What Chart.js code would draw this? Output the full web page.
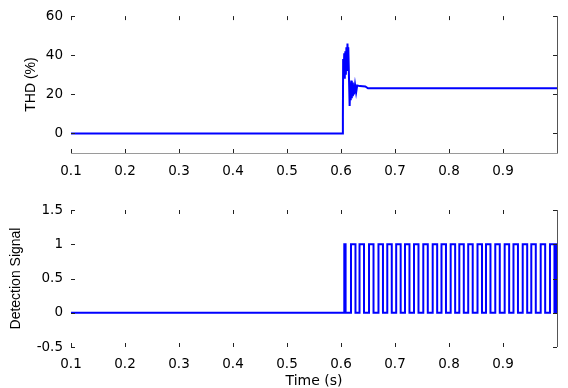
<!DOCTYPE html>
<html>
<head>
<meta charset="utf-8">
<script src="https://cdn.jsdelivr.net/npm/chart.js@4.4.0/dist/chart.umd.min.js"></script>
<style>
body { margin: 0; background: #fff; }
#wrap { position: relative; width: 568px; height: 388px; }
canvas { position: absolute; left: 0; }
#thdChart { top: 0; }
#detChart { top: 180px; }
</style>
</head>
<body>
<div id="wrap">
<canvas id="thdChart" width="568" height="180"></canvas>
<canvas id="detChart" width="568" height="208"></canvas>
</div>
<script>
// x axis ticks (s)
var timeTicks = [0.1, 0.2, 0.3, 0.4, 0.5, 0.6, 0.7, 0.8, 0.9];
var timeLabels = ['0.1', '0.2', '0.3', '0.4', '0.5', '0.6', '0.7', '0.8', '0.9'];

// THD (%) trace
var thdTime = [0.1, 0.603, 0.6035, 0.604, 0.605, 0.606, 0.607, 0.608, 0.609, 0.610, 0.611, 0.612, 0.613, 0.6135,
    0.615, 0.616, 0.617, 0.618, 0.619, 0.620, 0.621, 0.622, 0.623, 0.624, 0.626, 0.628, 0.630, 0.635, 0.645, 0.650, 1.0];
var thdValue = [0, 0, 8, 38, 30, 41, 28, 42, 30, 44, 32, 46, 35, 44,
    26, 14, 24, 17, 27, 18, 26, 19, 25, 20, 25, 21, 24.5, 24.2, 24, 23.1, 23.1];
var thdTicks = [0, 20, 40, 60];
var thdLabels = ['0', '20', '40', '60'];

// detection signal: rising and falling edge times (s)
var detRise = [0.6061, 0.6185, 0.6343, 0.6519, 0.6694, 0.6857, 0.7022, 0.7185, 0.7352, 0.7524, 0.7698, 0.7861,
    0.8031, 0.8191, 0.8356, 0.8528, 0.8685, 0.8857, 0.9031, 0.9194, 0.9365, 0.9524, 0.9698, 0.9870];
var detFall = [0.6085, 0.6268, 0.6426, 0.6602, 0.6777, 0.6940, 0.7105, 0.7268, 0.7435, 0.7607, 0.7781, 0.7944,
    0.8114, 0.8274, 0.8439, 0.8611, 0.8768, 0.8940, 0.9114, 0.9277, 0.9448, 0.9607, 0.9781, 0.9953];
var detTicks = [-0.5, 0, 0.5, 1, 1.5];
var detLabels = ['-0.5', '0', '0.5', '1', '1.5'];

// the picture is a bit wide, so horizontal text gets a wider face
var tickFont = { family: '"DejaVu Sans", sans-serif', size: 13.5 };
var vTitleFont = { family: '"Liberation Sans", Arial, sans-serif', size: 14 };
var hTitleFont = { family: '"DejaVu Sans", sans-serif', size: 14, lineHeight: 1 };

var thdPoints = thdTime.map(function(t, i) { return { x: t, y: thdValue[i] }; });

var detPoints = [{ x: 0.1, y: 0 }];
detRise.forEach(function(r, i) {
    detPoints.push({ x: r, y: 0 }, { x: r, y: 1 }, { x: detFall[i], y: 1 }, { x: detFall[i], y: 0 });
});
detPoints.push({ x: 0.999, y: 0 }, { x: 0.999, y: 1 }, { x: 1.0, y: 1 });

// inward tick marks + right frame, like a matlab axes
var frameTicks = {
    id: 'frameTicks',
    afterDraw: function(chart) {
        var ctx = chart.ctx;
        var a = chart.chartArea;
        var xs = chart.scales.x, ys = chart.scales.y;
        ctx.save();
        ctx.strokeStyle = '#222';
        ctx.lineWidth = 1;
        ctx.beginPath();
        xs.ticks.forEach(function(t) {
            var px = Math.round(xs.getPixelForValue(t.value)) + 0.5;
            ctx.moveTo(px, a.top); ctx.lineTo(px, a.top + 4);
            ctx.moveTo(px, a.bottom); ctx.lineTo(px, a.bottom - 4);
        });
        ys.ticks.forEach(function(t) {
            var py = Math.round(ys.getPixelForValue(t.value)) + 0.5;
            ctx.moveTo(a.left, py); ctx.lineTo(a.left + 4, py);
            ctx.moveTo(a.right, py); ctx.lineTo(a.right - 4, py);
        });
        ctx.stroke();
        ctx.strokeStyle = '#555';
        ctx.beginPath();
        ctx.moveTo(a.right + 0.5, a.top);
        ctx.lineTo(a.right + 0.5, a.bottom);
        ctx.stroke();
        ctx.restore();
    }
};

function makeChart(id, points, opts) {
    return new Chart(document.getElementById(id).getContext('2d'), {
        type: 'line',
        data: {
            datasets: [{
                data: points,
                borderColor: '#0000ff',
                borderWidth: 2,
                pointRadius: 0,
                tension: 0
            }]
        },
        options: {
            responsive: false,
            animation: false,
            layout: { padding: opts.padding },
            plugins: { legend: { display: false }, tooltip: { enabled: false } },
            scales: {
                x: {
                    type: 'linear',
                    min: 0.1,
                    max: 1.0,
                    afterBuildTicks: function(s) { s.ticks = timeTicks.map(function(v) { return { value: v }; }); },
                    afterFit: function(s) { s.height = opts.xHeight; },
                    ticks: {
                        color: '#000', font: tickFont, padding: opts.xPad, maxRotation: 0,
                        callback: function(v, i) { return timeLabels[i]; }
                    },
                    grid: { display: false, drawTicks: false },
                    border: { display: opts.xBorder, color: '#9a9a9a', width: 1 },
                    title: { display: !!opts.xTitle, text: opts.xTitle, color: '#000', font: hTitleFont, padding: 0 }
                },
                y: {
                    min: opts.yMin,
                    max: opts.yMax,
                    afterBuildTicks: function(s) { s.ticks = opts.yTicks.map(function(v) { return { value: v }; }); },
                    afterFit: function(s) { s.width = 71; },
                    ticks: {
                        color: '#000', font: tickFont, padding: 8,
                        callback: function(v, i) { return opts.yLabels[i]; }
                    },
                    grid: { display: false, drawTicks: false },
                    border: { display: false },
                    title: { display: true, text: opts.yTitle, color: '#000', font: vTitleFont, padding: { top: opts.yTitlePad, bottom: 0 } }
                }
            }
        },
        plugins: [frameTicks]
    });
}

makeChart('thdChart', thdPoints, {
    padding: { left: 0, right: 11, top: 15, bottom: 0 },
    xHeight: 27, xPad: 10, xBorder: true, xTitle: '',
    yMin: -10, yMax: 60, yTicks: thdTicks, yLabels: thdLabels,
    yTitle: 'THD (%)', yTitlePad: 23
});

makeChart('detChart', detPoints, {
    padding: { left: 0, right: 11, top: 30, bottom: 0 },
    xHeight: 41, xPad: 9, xBorder: false, xTitle: 'Time (s)',
    yMin: -0.5, yMax: 1.5, yTicks: detTicks, yLabels: detLabels,
    yTitle: 'Detection Signal', yTitlePad: 8
});
</script>
</body>
</html>
